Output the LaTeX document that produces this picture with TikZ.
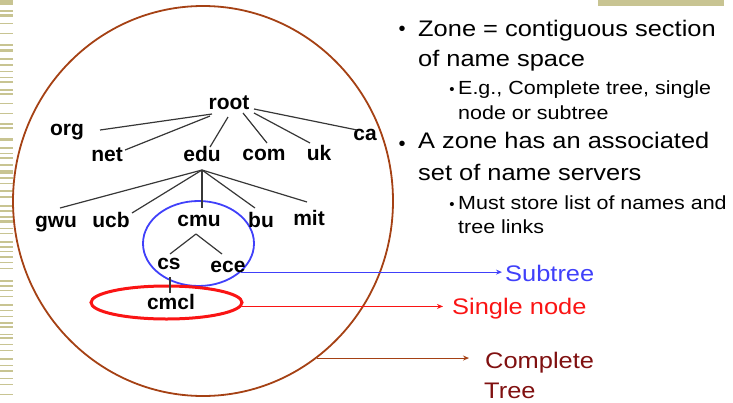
\documentclass[tikz,border=0pt]{standalone}
\usepackage{fontspec}
\setmainfont{Liberation Sans}
\newfontfamily\slidefont[FakeStretch=1.13]{Liberation Sans}
\usetikzlibrary{shapes.geometric, arrows.meta, calc}
\definecolor{RingBrown}{RGB}{165, 65, 20}
\definecolor{ZoneBlue}{RGB}{64, 64, 250}
\definecolor{ZoneRed}{RGB}{250, 20, 20}
\definecolor{TreeRed}{RGB}{128, 16, 16}
\definecolor{OliveBar}{RGB}{200, 196, 146}
\definecolor{EdgeGrey}{RGB}{55, 55, 55}

\begin{document}
\begin{tikzpicture}[
        x=1pt, y=-1pt,
        dom/.style={font=\fontsize{21}{21}\selectfont\bfseries, inner sep=0pt, text height=14pt, text depth=4pt},
        edge/.style={EdgeGrey, line width=1.2pt},
        zone/.style={ellipse, inner sep=0pt},
        txt/.style={font=\slidefont\fontsize{22.5}{31}\selectfont, inner sep=0pt, anchor=base west},
        subtxt/.style={font=\slidefont\fontsize{19}{25}\selectfont, inner sep=0pt, anchor=base west},
        dot/.style={font=\fontsize{20}{20}\selectfont, inner sep=0pt, anchor=base},
        subdot/.style={font=\fontsize{15}{15}\selectfont, inner sep=0pt, anchor=base},
        lbl/.style={font=\slidefont\fontsize{22.5}{30}\selectfont, inner sep=0pt, anchor=base west},
        pointer/.style={-{Stealth[length=6pt, width=5pt]}, line width=1pt}
    ]
        \useasboundingbox (0,0) rectangle (733,402);

        % slide decoration
        \foreach \y/\h in {0/5, 10/2, 14/3, 23/1, 33/1, 44/2, 49/3, 58/2, 64/2, 71/1, 77/1, 81/2, 89/2, 93/2,
                103/1, 113/1, 123/2, 127/2, 138/3, 147/2, 153/1, 157/2, 164/2, 170/4, 177/2, 183/1, 190/2, 196/2,
                205/2, 210/2, 216/2, 220/3, 228/1, 233/1, 241/2, 246/2, 251/1, 256/2, 262/1, 268/1, 280/2, 285/2,
                290/1, 296/1, 304/2, 310/1, 316/1, 322/2, 326/2, 334/1, 337/2, 344/1, 350/1, 358/2, 365/1, 370/2,
                378/1, 384/1, 394/1}
            \fill[OliveBar] (0,\y) rectangle (13,\y+\h);
        \fill[OliveBar] (598,0) rectangle (724,6);

        % zones
        \node[zone, draw=RingBrown, line width=1.8pt, minimum width=380pt, minimum height=390pt] (ring) at (203,201) {};
        \node[zone, draw=ZoneBlue, line width=1.8pt, minimum width=111pt, minimum height=85pt] (sub) at (198.5,243.5) {};
        \node[zone, draw=ZoneRed, line width=3pt, minimum width=151pt, minimum height=33pt] (single) at (166.5,302.5) {};

        % name tree
        \node[dom] (root) at (229,104) {root};
        \node[dom] (org) at (67,130) {org};
        \node[dom] (net) at (107,156) {net};
        \node[dom] (edu) at (202,156) {edu};
        \node[dom] (com) at (264,155) {com};
        \node[dom] (uk) at (319,155) {uk};
        \node[dom] (ca) at (365,135) {ca};
        \node[dom] (gwu) at (56,222) {gwu};
        \node[dom] (ucb) at (111,222) {ucb};
        \node[dom] (cmu) at (199,221) {cmu};
        \node[dom] (bu) at (261,222) {bu};
        \node[dom] (mit) at (309,220) {mit};
        \node[dom] (cs) at (169,264) {cs};
        \node[dom] (ece) at (228,267) {ece};
        \node[dom] (cmcl) at (171,304) {cmcl};

        \draw[edge] ($(root)+(-17,10)$) -- ($(org)+(33,0)$);
        \draw[edge] ($(root)+(-19,12)$) -- ($(net)+(18,-6)$);
        \draw[edge] ($(root)+(-1,13)$) -- ($(edu)+(8,-9)$);
        \draw[edge] ($(root)+(14,9)$) -- ($(com)+(3,-12)$);
        \draw[edge] ($(root)+(25,9)$) -- ($(uk)+(-9,-12)$);
        \draw[edge] ($(root)+(25,5)$) -- ($(ca)+(-8,-5)$);
        \draw[edge] ($(edu)+(0,14)$) -- ($(gwu)+(4,-14)$);
        \draw[edge] ($(edu)+(0,14)$) -- ($(ucb)+(21,-9)$);
        \draw[edge] ($(edu)+(0,14)$) -- ($(cmu)+(3,-13)$);
        \draw[edge] ($(edu)+(0,14)$) -- ($(bu)+(-6,-14)$);
        \draw[edge] ($(edu)+(0,14)$) -- ($(mit)+(-2,-18)$);
        \draw[edge] ($(cmu)+(-3,13)$) -- ($(cs)+(1,-10)$);
        \draw[edge] ($(cmu)+(-3,13)$) -- ($(ece)+(-6,-13)$);
        \draw[edge] ($(cs)+(1,13)$) -- ($(cmcl)+(-1,-11)$);

        % bullet text
        \node[dot] (b1) at (402,35) {•};
        \node[txt] (z1a) at (418,36) {Zone = contiguous section};
        \node[txt] (z1b) at (418,66) {of name space};
        \node[subdot] (b1s) at (452,94) {•};
        \node[subtxt] (z1c) at (458,94) {E.g., Complete tree, single};
        \node[subtxt] (z1d) at (458,119) {node or subtree};
        \node[dot] (b2) at (402,150) {•};
        \node[txt] (z2a) at (418,148) {A zone has an associated};
        \node[txt] (z2b) at (418,180) {set of name servers};
        \node[subdot] (b2s) at (452,209) {•};
        \node[subtxt] (z2c) at (458,209) {Must store list of names and};
        \node[subtxt] (z2d) at (458,233) {tree links};

        % zone labels
        \node[lbl, text=ZoneBlue] (subt) at (505,281) {Subtree};
        \node[lbl, text=ZoneRed] (snode) at (452,314) {Single node};
        \node[lbl, text=TreeRed] (cpl) at (485,368) {Complete};
        \node[lbl, text=TreeRed] (cplb) at (484,398) {Tree};

        \draw[pointer, ZoneBlue, shorten >=3pt] (sub.-34) -- (sub.-34 -| subt.west);
        \draw[pointer, ZoneRed, shorten >=9pt] (single.-3) -- (single.-3 -| snode.west);
        \draw[pointer, RingBrown, shorten >=16pt] (ring.-54) -- (ring.-54 -| cpl.west);
    \end{tikzpicture}
\end{document}
